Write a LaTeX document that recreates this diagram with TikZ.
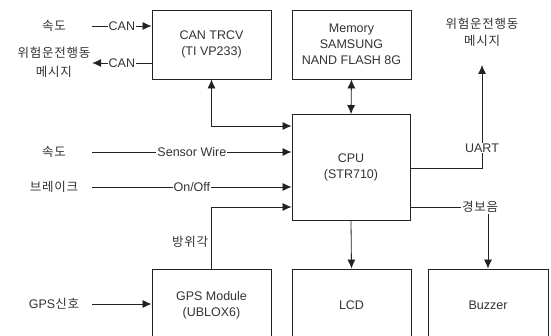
\documentclass[tikz,border=0pt]{standalone}
\usepackage{fontspec}
\setmainfont{Liberation Sans}
\newfontfamily\kr[LetterSpace=6]{Noto Sans CJK KR}
\usetikzlibrary{arrows.meta}
\definecolor{ink}{HTML}{333333}
\definecolor{ln}{HTML}{222222}
\begin{document}
\begin{tikzpicture}[x=1pt,y=-1pt,
  every node/.style={font=\fontsize{12.5}{16}\selectfont, text=ink},
  box/.style={draw=ln, line width=0.9pt, inner sep=0pt, align=center},
  side/.style={inner sep=0pt, minimum width=76pt, align=center, font=\kr\fontsize{12.5}{19}\selectfont},
  lbl/.style={fill=white, inner sep=1pt},
  wire/.style={draw=ln, line width=0.8pt},
  arr/.style={wire, -{Latex[length=9pt,width=8pt]}},
  arr2/.style={wire, {Latex[length=9pt,width=8pt]}-{Latex[length=9pt,width=8pt]}}]
\useasboundingbox (0,0) rectangle (551,336);
\clip (0,0) rectangle (551,336);
\fill[white] (0,0) rectangle (551,336);

% boxes
\node[box, minimum width=119pt, minimum height=69pt] (can) at (211.5,44.5) {CAN TRCV\\(TI VP233)};
\node[box, minimum width=119pt, minimum height=69pt] (mem) at (351.5,44.5) {Memory\\SAMSUNG\\NAND FLASH 8G};
\node[box, minimum width=118pt, minimum height=106pt] (cpu) at (351,167.5) {CPU\\(STR710)};
\node[box, minimum width=119pt, minimum height=72pt] (gps) at (211.5,305) {GPS Module\\(UBLOX6)};
\node[box, minimum width=119pt, minimum height=72pt] (lcd) at (351.5,305) {LCD};
\node[box, minimum width=120pt, minimum height=72pt] (buz) at (488,305) {Buzzer};

% side labels
\node[side] (s1) at (54,26) {속도};
\node[side] (w1) at (54,62) {위험운전행동\\메시지};
\node[side] (s2) at (54,152) {속도};
\node[side] (br) at (54,187) {브레이크};
\node[side, font=\fontsize{12.5}{16}\selectfont] (gs) at (54,304) {GPS{\kr 신호}};
\node[side, minimum width=0pt, font=\kr\fontsize{12.5}{17}\selectfont] (w2) at (482,32) {위험운전행동\\메시지};
\node[inner sep=1pt, fill=white, font=\kr\fontsize{12.5}{16}\selectfont] (bz) at (480,207) {경보음};

\coordinate (yA) at (0,126);
\coordinate (yB) at (0,207);
\coordinate (yC) at (0,168);
\coordinate (tip) at (482,65);

% connectors
\draw[arr] (s1.east) -- node[lbl]{CAN} (can.west |- s1.east);
\draw[arr] (can.west |- 0,63) -- node[lbl]{CAN} (w1.east |- 0,63);
\draw[arr2] (can.south) |- (cpu.west |- yA);
\draw[arr2] (mem.south) -- (cpu.north);
\draw[arr] (s2.east) -- node[lbl]{Sensor Wire} (cpu.west |- s2.east);
\draw[arr] (br.east) -- node[lbl]{On/Off} (cpu.west |- br.east);
\draw[arr] (gps.north) |- node[pos=0.22, left=3pt, inner sep=0pt, font=\kr\fontsize{12.5}{16}\selectfont]{방위각} (cpu.west |- yB);
\draw[arr] (gs.east) -- (gps.west |- gs.east);
\draw[arr] (cpu.south) -- (lcd.north);
\draw[arr] (cpu.east |- yC) -| (tip);
\node[lbl] (uart) at (482,148) {UART};
\draw[wire] (cpu.east |- yB) -- (bz.west);
\draw[arr] (bz.south -| buz.north) -- (buz.north);
\end{tikzpicture}
\end{document}
